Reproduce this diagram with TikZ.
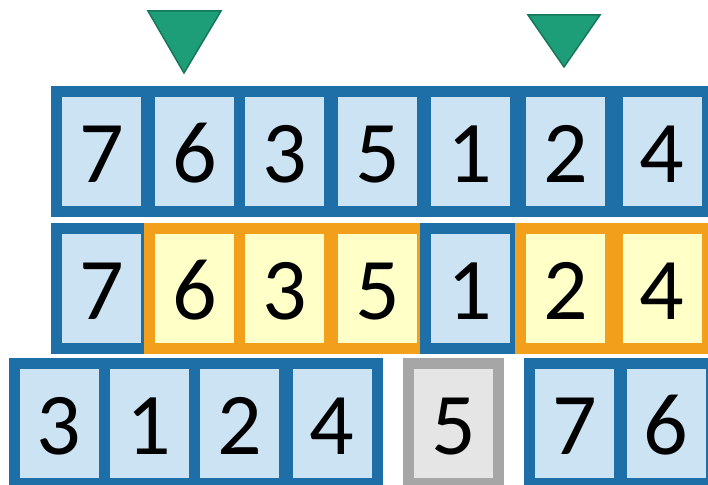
\documentclass[tikz,border=0pt]{standalone}
\usepackage{fontspec}
\setmainfont{Carlito}
\definecolor{bbord}{HTML}{1E6EA8}
\definecolor{bfill}{HTML}{CCE3F4}
\definecolor{obord}{HTML}{F29F1C}
\definecolor{ofill}{HTML}{FFFFC8}
\definecolor{gbord}{HTML}{A6A6A6}
\definecolor{gfill}{HTML}{E5E5E5}
\definecolor{tfill}{HTML}{1E9E78}
\definecolor{tbord}{HTML}{16785A}
\tikzset{
  cell/.style={rectangle, line width=11pt, minimum width=90pt, minimum height=120pt,
    inner sep=0pt, text height=61pt, text depth=0pt,
    font=\fontsize{88}{88}\selectfont},
  bluecell/.style={cell, draw=bbord, fill=bfill},
  orangecell/.style={cell, draw=obord, fill=ofill},
  greycell/.style={cell, draw=gbord, fill=gfill},
  pointer/.style={fill=tfill, draw=tbord, line width=1.5pt, line join=miter}
}
\begin{document}
\begin{tikzpicture}[x=1pt,y=-1pt]
\useasboundingbox (0,0) rectangle (708,484);
% row 1
\node[bluecell] (r1a) at (101.5,151.5) {7};
\node[bluecell] (r1b) at (194.5,151.5) {6};
\node[bluecell] (r1c) at (284.5,151.5) {3};
\node[bluecell] (r1d) at (377.5,151.5) {5};
\node[bluecell] (r1e) at (470,151.5) {1};
\node[bluecell] (r1f) at (565.5,151.5) {2};
\node[bluecell] (r1g) at (662,151.5) {4};
% row 2
\node[bluecell] (r2a) at (101.5,288.5) {7};
\node[orangecell] (r2b) at (194.5,288.5) {6};
\node[orangecell] (r2c) at (284.5,288.5) {3};
\node[orangecell] (r2d) at (377.5,288.5) {5};
\node[bluecell] (r2e) at (470,288.5) {1};
\node[orangecell] (r2f) at (565.5,288.5) {2};
\node[orangecell] (r2g) at (662,288.5) {4};
% row 3
\node[bluecell] (r3a) at (59,423.5) {3};
\node[bluecell] (r3b) at (149,423.5) {1};
\node[bluecell] (r3c) at (239.5,423.5) {2};
\node[bluecell] (r3d) at (332,423.5) {4};
\node[greycell] (r3e) at (453.5,423.5) {5};
\node[bluecell] (r3f) at (574.5,423.5) {7};
\node[bluecell] (r3g) at (666,423.5) {6};
% pointers
\draw[pointer] (148,11) -- (221,11) -- (184,73) -- cycle;
\draw[pointer] (528,15) -- (600,15) -- (564,67) -- cycle;
\end{tikzpicture}
\end{document}
